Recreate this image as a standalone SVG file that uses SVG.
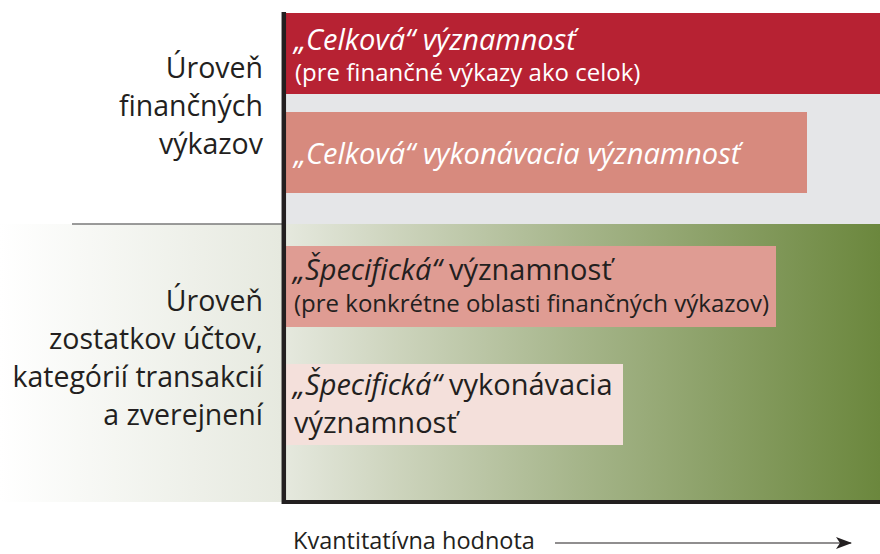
<svg xmlns="http://www.w3.org/2000/svg" width="880" height="554" viewBox="0 0 880 554">
  <defs>
    <linearGradient id="greenFade" x1="0" y1="0" x2="880" y2="0" gradientUnits="userSpaceOnUse">
      <stop offset="0" stop-color="#ffffff"/>
      <stop offset="0.32" stop-color="#e6e9df"/>
      <stop offset="0.45" stop-color="#cdd4bd"/>
      <stop offset="0.65" stop-color="#a7b68c"/>
      <stop offset="1" stop-color="#6b873d"/>
    </linearGradient>
    <marker id="arrowHead" viewBox="0 0 16 12" refX="15" refY="6" markerWidth="16" markerHeight="12" markerUnits="userSpaceOnUse" orient="auto">
      <path d="M0,0 L16,6 L0,12 L4,6 Z" fill="#231f20"/>
    </marker>
    <style>
      .lbl { font-family: "Open Sans", "Liberation Sans", sans-serif; fill: #231f20; }
      .side { font-size: 28.5px; text-anchor: end; }
      .head { font-size: 29px; }
      .sub { font-size: 24px; }
      .it { font-style: italic; }
      .wt { fill: #ffffff; }
    </style>
  </defs>

  <!-- background bands -->
  <rect x="0" y="224" width="880" height="278" fill="url(#greenFade)"/>
  <rect x="286" y="13" width="594" height="211" fill="#e5e6e8"/>
  <line x1="72" y1="224" x2="284" y2="224" stroke="#7a7a7a" stroke-width="1.5"/>

  <!-- row labels -->
  <g id="level-statements">
    <text class="lbl side" x="263" y="78">Úroveň</text>
    <text class="lbl side" x="263" y="116">finančných</text>
    <text class="lbl side" x="263" y="154">výkazov</text>
  </g>
  <g id="level-accounts">
    <text class="lbl side" x="263" y="311">Úroveň</text>
    <text class="lbl side" x="263" y="349">zostatkov účtov,</text>
    <text class="lbl side" x="263" y="387">kategórií transakcií</text>
    <text class="lbl side" x="263" y="425">a zverejnení</text>
  </g>

  <!-- materiality bars -->
  <g id="overall-materiality">
    <rect x="286" y="13" width="594" height="81" fill="#b72233"/>
    <text class="lbl head it wt" x="294" y="50">„Celková“ významnosť</text>
    <text class="lbl sub wt" x="295" y="81">(pre finančné výkazy ako celok)</text>
  </g>
  <g id="overall-performance-materiality">
    <rect x="286" y="112" width="521" height="81" fill="#d78a7e"/>
    <text class="lbl head it wt" x="294" y="164">„Celková“ vykonávacia významnosť</text>
  </g>
  <g id="specific-materiality">
    <rect x="286" y="246" width="490" height="81" fill="#df9c93"/>
    <text class="lbl head" x="293" y="280"><tspan class="it">„Špecifická“</tspan> významnosť</text>
    <text class="lbl sub" x="294" y="312">(pre konkrétne oblasti finančných výkazov)</text>
  </g>
  <g id="specific-performance-materiality">
    <rect x="286" y="364" width="337" height="81" fill="#f4e0db"/>
    <text class="lbl head" x="293" y="395"><tspan class="it">„Špecifická“</tspan> vykonávacia</text>
    <text class="lbl head" x="294" y="433">významnosť</text>
  </g>

  <!-- axes and quantity arrow -->
  <g id="connectors">
    <line x1="283.8" y1="12" x2="283.8" y2="504" stroke="#231f20" stroke-width="4.5"/>
    <line x1="282" y1="502" x2="880" y2="502" stroke="#231f20" stroke-width="4"/>
    <line x1="555" y1="543" x2="851" y2="543" stroke="#231f20" stroke-width="1.2" marker-end="url(#arrowHead)"/>
  </g>
  <g id="axis-label">
    <text class="lbl" x="293" y="549" font-size="23.5">Kvantitatívna hodnota</text>
  </g>
</svg>
